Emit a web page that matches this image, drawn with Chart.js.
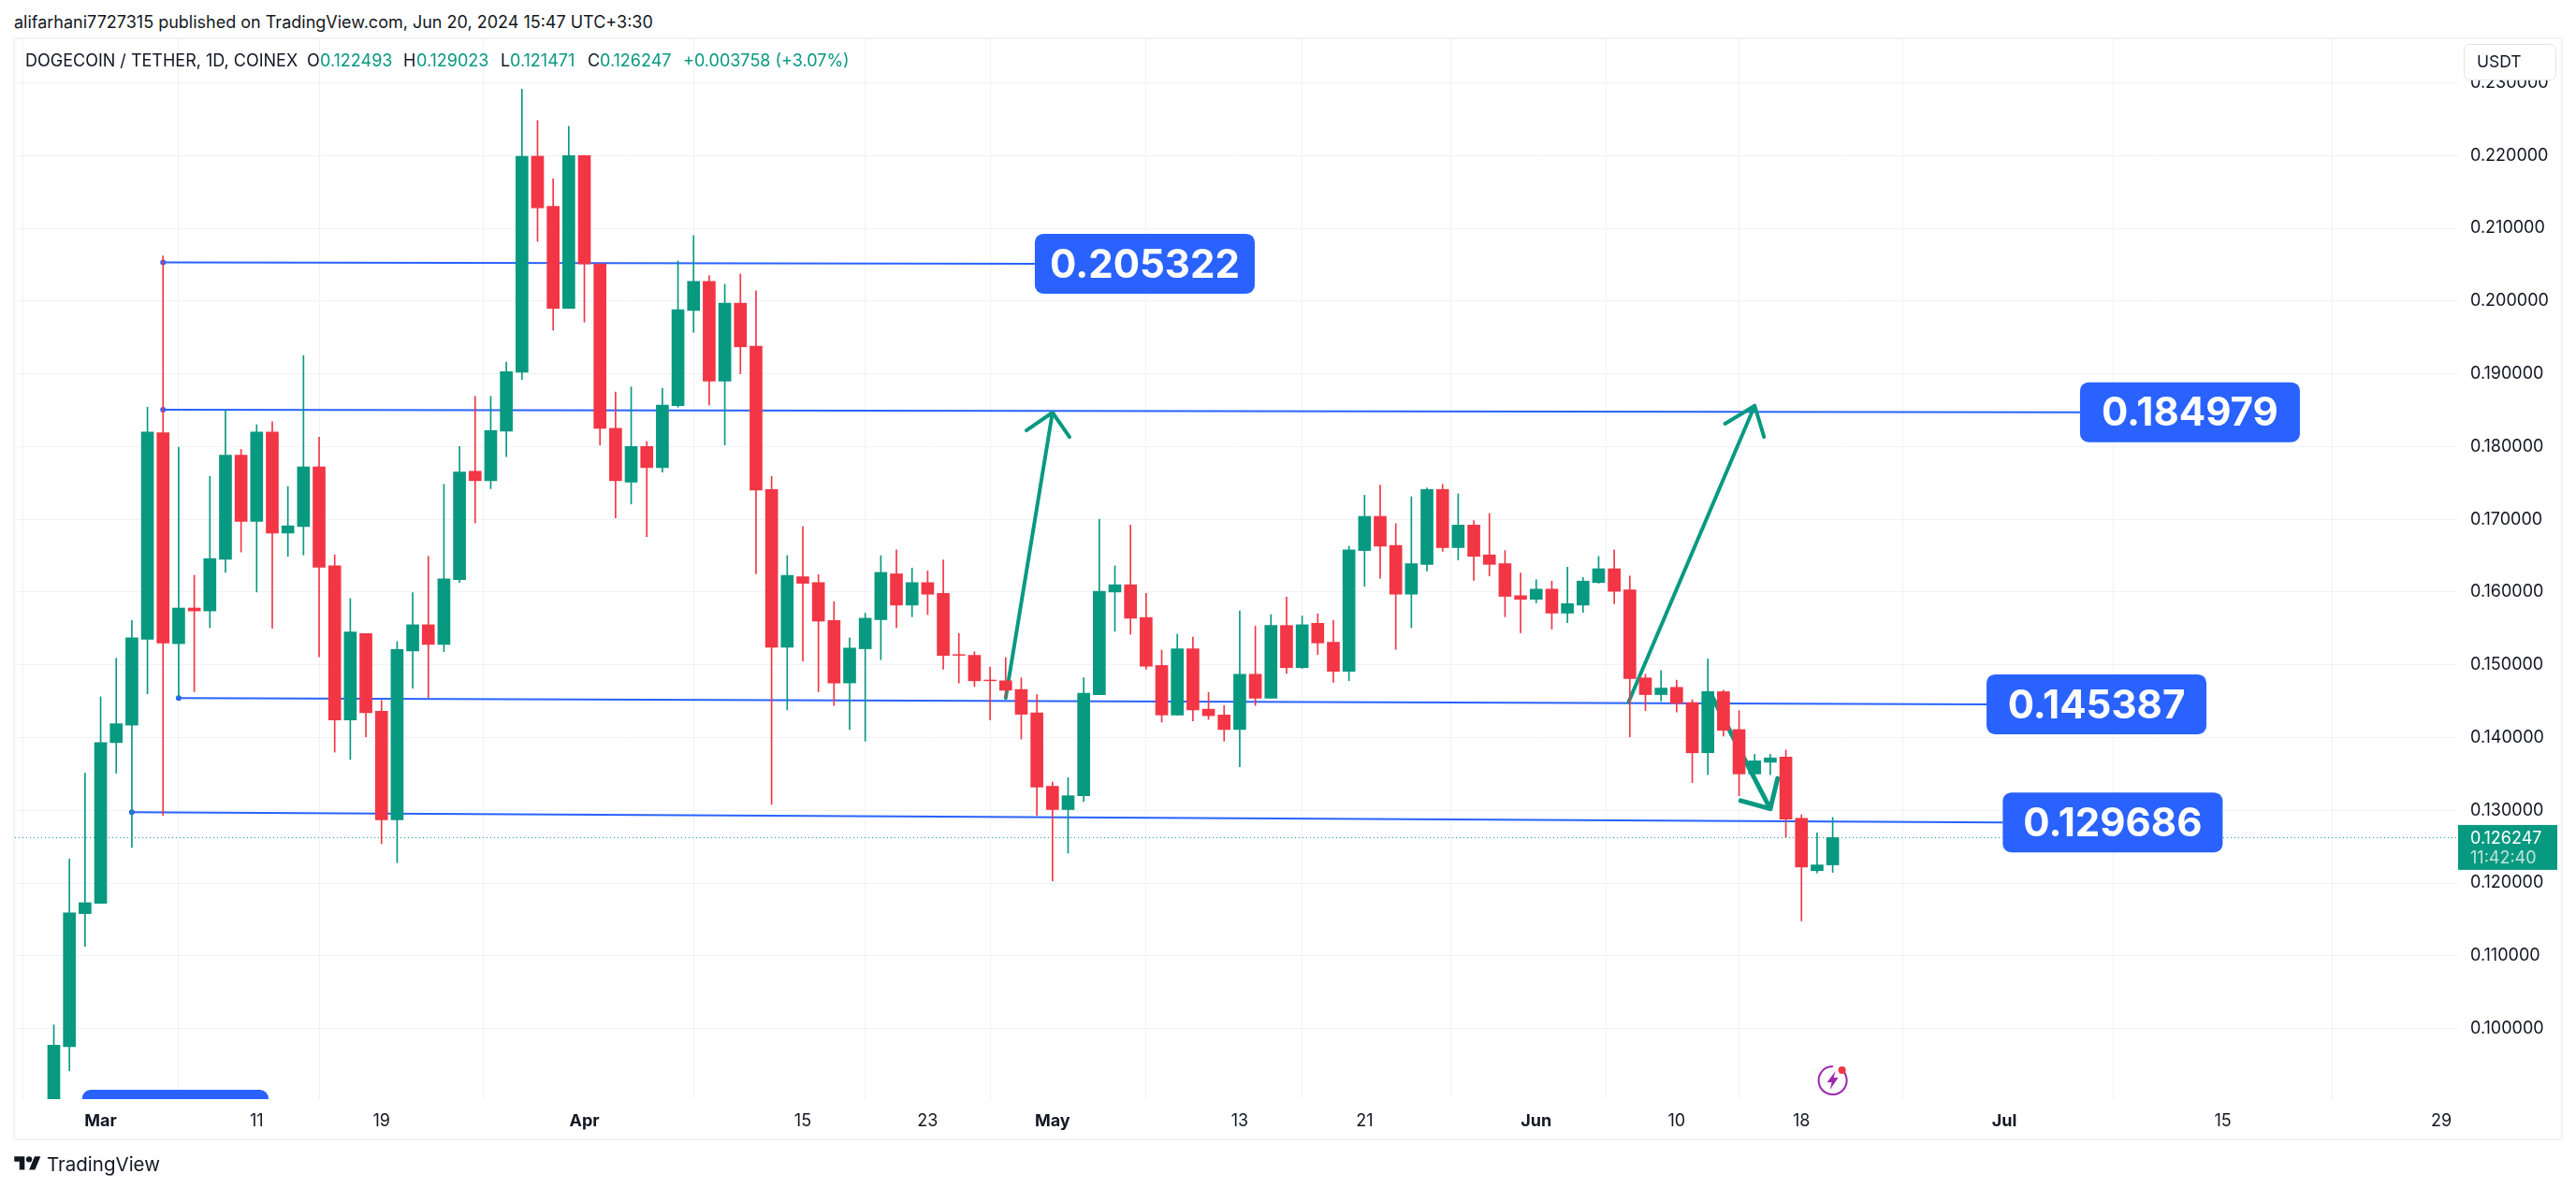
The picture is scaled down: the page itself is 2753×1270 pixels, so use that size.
<!DOCTYPE html>
<html><head><meta charset="utf-8">
<style>
html,body{margin:0;padding:0;background:#fff;width:2753px;height:1270px;overflow:hidden;font-family:Inter,sans-serif;color:#131722}
#panel{position:absolute;left:14px;top:40px;width:2721px;height:1175px;border:2px solid #F0F3FA;pointer-events:none}
canvas{position:absolute;left:0;top:0}
.t{position:absolute;white-space:nowrap;line-height:1}
.g{color:#089981}
</style>
<script src="https://cdn.jsdelivr.net/npm/chart.js@4/dist/chart.umd.min.js"></script>
</head><body>
<div class="t" style="left:15px;top:15px;font-size:18px">alifarhani7727315 published on TradingView.com, Jun 20, 2024 15:47 UTC+3:30</div>
<div id="panel"></div>
<canvas id="c" width="2753" height="1270"></canvas>
<div class="t" style="left:27px;top:56px;font-size:18px">DOGECOIN / TETHER, 1D, COINEX</div>
<div class="t" style="left:328px;top:56px;font-size:18px">O</div><div class="t g" style="left:342px;top:56px;font-size:18px">0.122493</div>
<div class="t" style="left:431px;top:56px;font-size:18px">H</div><div class="t g" style="left:445px;top:56px;font-size:18px">0.129023</div>
<div class="t" style="left:535px;top:56px;font-size:18px">L</div><div class="t g" style="left:545px;top:56px;font-size:18px">0.121471</div>
<div class="t" style="left:628px;top:56px;font-size:18px">C</div><div class="t g" style="left:641px;top:56px;font-size:18px">0.126247</div>
<div class="t g" style="left:730px;top:56px;font-size:18px">+0.003758 (+3.07%)</div>
<svg style="position:absolute;left:15px;top:1233px" width="29" height="19" viewBox="0 0 36 24"><path fill="#131722" d="M14 22H7V11H0V4h14v18zM28 22h-8l7.5-18h8L28 22z"/><circle fill="#131722" cx="20" cy="8" r="4"/></svg>
<div class="t" style="left:50px;top:1235px;font-size:20.5px">TradingView</div>
<script>
// Daily candles, 27 Feb 2024 - 20 Jun 2024
const firstDate = '2024-02-27';
const opens = [
.0880,.0975,.1158,.1172,.1393,.1417,.1535,.1819,.1529,.1578,
.1574,.1645,.1788,.1697,.1820,.1681,.1690,.1772,.1636,.1424,
.1543,.1436,.1287,.1519,.1555,.1528,.1617,.1766,.1753,.1821,
.1902,.2199,.2130,.1990,.2200,.2051,.1825,.1751,.1800,.1771,
.1856,.1987,.2027,.1890,.1997,.1938,.1741,.1524,.1621,.1613,
.1561,.1475,.1522,.1562,.1625,.1582,.1613,.1598,.1514,.1513,
.1479,.1478,.1466,.1434,.1333,.1301,.1320,.1459,.1600,.1610,
.1565,.1499,.1431,.1522,.1439,.1431,.1411,.1487,.1454,.1554,
.1496,.1557,.1531,.1491,.1657,.1704,.1664,.1597,.1638,.1741,
.1661,.1692,.1651,.1639,.1595,.1590,.1604,.1571,.1582,.1613,
.1632,.1603,.1482,.1459,.1469,.1448,.1379,.1463,.1411,.1350,
.1366,.1373,.1289,.1217,.122493];
const highs = [
.1005,.1233,.1351,.1456,.1509,.1561,.1854,.2062,.1799,.1623,
.1759,.1850,.1796,.1830,.1834,.1745,.1925,.1813,.1651,.1591,
.1543,.1451,.1532,.1599,.1649,.1748,.1800,.1869,.1869,.1916,
.2291,.2248,.2168,.2240,.2200,.2051,.1875,.1882,.1807,.1880,
.2055,.2090,.2035,.2023,.2037,.2014,.1759,.1650,.1690,.1624,
.1587,.1537,.1571,.1650,.1658,.1633,.1629,.1644,.1543,.1518,
.1497,.1510,.1482,.1459,.1339,.1345,.1482,.1700,.1636,.1692,
.1598,.1520,.1542,.1538,.1462,.1444,.1574,.1553,.1569,.1593,
.1567,.1570,.1561,.1663,.1733,.1747,.1694,.1731,.1743,.1748,
.1735,.1698,.1708,.1657,.1626,.1617,.1615,.1634,.1620,.1649,
.1658,.1622,.1487,.1492,.1479,.1452,.1508,.1465,.1437,.1377,
.1377,.1383,.1294,.1269,.129023];
const lows = [
.0870,.0942,.1113,.1172,.1351,.1249,.1460,.1293,.1455,.1463,
.1551,.1627,.1655,.1600,.1550,.1649,.1651,.1511,.1380,.1370,
.1401,.1254,.1228,.1468,.1455,.1518,.1613,.1695,.1742,.1786,
.1892,.2082,.1960,.1990,.1971,.1802,.1702,.1721,.1676,.1765,
.1854,.1957,.1857,.1802,.1900,.1625,.1308,.1438,.1505,.1463,
.1444,.1411,.1395,.1507,.1551,.1566,.1569,.1494,.1475,.1470,
.1424,.1455,.1398,.1293,.1203,.1241,.1312,.1459,.1546,.1542,
.1494,.1421,.1431,.1423,.1425,.1395,.1360,.1444,.1454,.1488,
.1495,.1514,.1476,.1478,.1608,.1619,.1521,.1551,.1629,.1656,
.1644,.1616,.1622,.1566,.1544,.1585,.1549,.1558,.1572,.1612,
.1584,.1401,.1437,.1450,.1435,.1338,.1349,.1402,.1320,.1347,
.1349,.1263,.1148,.1214,.121471];
const closes = [
.0977,.1159,.1173,.1393,.1419,.1537,.1820,.1530,.1578,.1574,
.1646,.1788,.1697,.1820,.1681,.1691,.1772,.1634,.1424,.1545,
.1434,.1287,.1521,.1555,.1528,.1618,.1765,.1753,.1822,.1903,
.2199,.2128,.1990,.2200,.2051,.1825,.1753,.1800,.1771,.1857,
.1988,.2027,.1890,.1997,.1937,.1740,.1524,.1623,.1612,.1560,
.1475,.1523,.1564,.1627,.1582,.1613,.1597,.1513,.1513,.1478,
.1478,.1465,.1432,.1332,.1301,.1320,.1461,.1601,.1610,.1564,
.1498,.1431,.1522,.1438,.1430,.1411,.1487,.1454,.1554,.1496,
.1555,.1530,.1491,.1658,.1704,.1663,.1597,.1639,.1741,.1661,
.1692,.1649,.1638,.1594,.1590,.1604,.1571,.1584,.1615,.1632,
.1601,.1481,.1459,.1468,.1447,.1379,.1463,.1410,.1350,.1368,
.1372,.1288,.1222,.122493,.126247];

// Axes
const priceTicks = [0.10,0.11,0.12,0.13,0.14,0.15,0.16,0.17,0.18,0.19,0.20,0.21,0.22,0.23];
const dayTicks   = [0,10,18,31,45,53,61,73,81,92,101,109,122,136,150]; // days after 1 Mar
const dayLabels  = ['Mar','11','19','Apr','15','23','May','13','21','Jun','10','18','Jul','15','29'];
const boldLabels = ['Mar','Apr','May','Jun','Jul'];
const lastPrice = 0.126247;
const countdown = '11:42:40';

// Drawn levels: [start day, start price, end day, end price], label text
const levelLabels = ['0.205322','0.184979','0.145387','0.129686'];
const levelDaysStart = [4,4,5,2];
const levelDaysEnd   = [59.87,126.85,120.86,121.9];
const levelPriceStart= [0.20532,0.18505,0.14544,0.12975];
const levelPriceEnd  = [0.20512,0.18471,0.14457,0.12833];

// Hand-drawn arrows
const arrowDays   = [[58,61,59.33,61,62.09],[97.92,106,104.1,106,106.6],[103.3,107,105.1,107,107.47]];
const arrowPrices = [[.14544,.18467,.18222,.18467,.18132],[.14487,.18561,.18313,.18561,.18132],[.1455,.1302,.13133,.1302,.13438]];
const arrowWidths = [4,4,5];

const GREEN='#089981', RED='#F23645', BLUE='#2962FF';
const FONT='Inter, sans-serif';
const X_MIN=-5.49, X_MAX=151.08, Y_MIN=0.0903, Y_MAX=0.2361;

const t0=Date.UTC(2024,2,1), start=Date.parse(firstDate+'T00:00:00Z');
const days=opens.map((_,i)=>Math.round((start-t0)/864e5)+i);
const colors=opens.map((o,i)=>closes[i]>=o?GREEN:RED);

const datasets=[];
// last-price dotted line
datasets.push({type:'line',data:[{x:X_MIN,y:lastPrice},{x:X_MAX,y:lastPrice}],borderColor:GREEN,borderWidth:1,borderDash:[1,3],pointRadius:0,order:9});
// levels
levelLabels.forEach((_,i)=>datasets.push({type:'line',data:[{x:levelDaysStart[i],y:levelPriceStart[i]},{x:levelDaysEnd[i],y:levelPriceEnd[i]}],
  borderColor:BLUE,borderWidth:2,pointRadius:[3,0],pointBackgroundColor:BLUE,pointBorderWidth:0,tension:0,order:8}));
// arrows
arrowDays.forEach((a,i)=>datasets.push({type:'line',data:a.map((x,j)=>({x,y:arrowPrices[i][j]})),
  borderColor:GREEN,borderWidth:arrowWidths[i],pointRadius:0,tension:0,borderCapStyle:'round',borderJoinStyle:'round',order:7}));
// wicks and bodies
datasets.push({type:'bar',data:days.map((x,i)=>({x,y:[lows[i],highs[i]]})),backgroundColor:colors,barThickness:1,grouped:false,borderSkipped:false,order:2});
datasets.push({type:'bar',data:days.map((x,i)=>({x,y:[opens[i],closes[i]]})),backgroundColor:colors,barThickness:13,grouped:false,borderSkipped:false,order:1});

function roundBox(ctx,x,y,w,h,r){ctx.beginPath();ctx.roundRect(x,y,w,h,r);}

const overlay={id:'overlay',afterDraw(chart){
  const ctx=chart.ctx,xs=chart.scales.x,ys=chart.scales.y,a=chart.chartArea;
  ctx.save();
  // level labels
  levelLabels.forEach((txt,i)=>{
    const x=xs.getPixelForValue(levelDaysEnd[i]),y=ys.getPixelForValue(levelPriceEnd[i]);
    ctx.fillStyle=BLUE;roundBox(ctx,x,y-32,235,64,9);ctx.fill();
    ctx.fillStyle='#fff';ctx.font='700 42px '+FONT;ctx.textAlign='center';ctx.textBaseline='middle';
    ctx.fillText(txt,x+117.5,y+2);
  });
  // cropped label at the bottom edge
  ctx.save();ctx.beginPath();ctx.rect(a.left,a.top,a.right-a.left,a.bottom-a.top);ctx.clip();
  ctx.fillStyle=BLUE;roundBox(ctx,xs.getPixelForValue(-1.18),a.bottom-10,199,40,9);ctx.fill();ctx.restore();
  // last price tag
  const py=ys.getPixelForValue(lastPrice);
  ctx.fillStyle=GREEN;ctx.fillRect(a.right,py-13.5,106,48);
  ctx.textAlign='left';ctx.textBaseline='middle';ctx.font='18px '+FONT;
  ctx.fillStyle='#fff';ctx.fillText(lastPrice.toFixed(6),a.right+13,py+1);
  ctx.fillStyle='#BFE3DB';ctx.fillText(countdown,a.right+13,py+22);
  // USDT box
  ctx.fillStyle='#fff';ctx.strokeStyle='#E0E3EB';ctx.lineWidth=1;roundBox(ctx,2633.5,47.5,98,38,6);ctx.fill();ctx.stroke();
  ctx.fillStyle='#131722';ctx.font='17.5px '+FONT;ctx.fillText('USDT',2647,67);
  // lightning icon
  const ix=xs.getPixelForValue(111),iy=1155;
  ctx.strokeStyle='#9C27B0';ctx.lineWidth=2;ctx.beginPath();ctx.arc(ix,iy,15,-1.0,-1.0+2*Math.PI-0.55);ctx.stroke();
  ctx.fillStyle='#9C27B0';ctx.beginPath();ctx.moveTo(ix+3,iy-10);ctx.lineTo(ix-6,iy+2);ctx.lineTo(ix-1,iy+2);ctx.lineTo(ix-3,iy+10);ctx.lineTo(ix+6,iy-3);ctx.lineTo(ix+1,iy-3);ctx.closePath();ctx.fill();
  ctx.fillStyle='#F23645';ctx.beginPath();ctx.arc(ix+10,iy-11,4,0,2*Math.PI);ctx.fill();
  ctx.restore();
}};

Chart.defaults.font.family=FONT;
new Chart(document.getElementById('c'),{
  data:{datasets},
  plugins:[overlay],
  options:{
    responsive:false,animation:false,devicePixelRatio:1,
    layout:{padding:{left:16,top:41,right:0,bottom:0}},
    plugins:{legend:{display:false},tooltip:{enabled:false}},
    scales:{
      x:{type:'linear',min:X_MIN,max:X_MAX,offset:false,
        grid:{color:'#F1F2F6',lineWidth:1,drawTicks:false},border:{display:false},
        afterBuildTicks(s){s.ticks=dayTicks.map(v=>({value:v}));},
        afterFit(s){s.height=95;},
        ticks:{autoSkip:false,maxRotation:0,minRotation:0,padding:13,color:'#131722',
          callback:(v)=>dayLabels[dayTicks.indexOf(v)],
          font:(c)=>({size:18,weight:boldLabels.includes(dayLabels[dayTicks.indexOf(c.tick&&c.tick.value)])?'700':'400'})}},
      y:{type:'linear',position:'right',min:Y_MIN,max:Y_MAX,
        grid:{color:'#F1F2F6',lineWidth:1,drawTicks:false},border:{display:false},
        afterBuildTicks(s){s.ticks=priceTicks.map(v=>({value:v}));},
        afterFit(s){s.width=126;},
        ticks:{padding:13,color:'#131722',font:{size:18},crossAlign:'near',callback:(v)=>v.toFixed(6)}}
    }
  }
});
</script>
</body></html>
